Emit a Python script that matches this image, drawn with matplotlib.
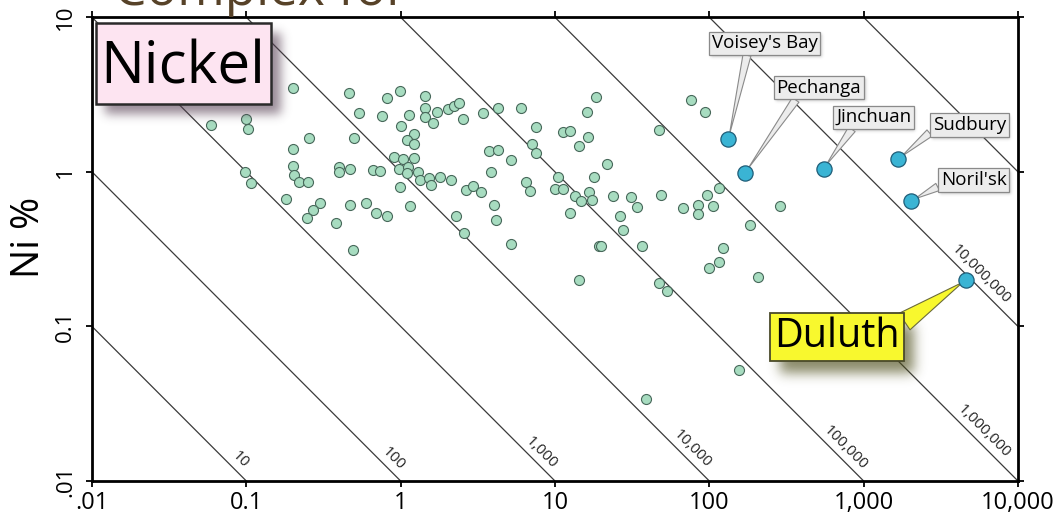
import numpy as np
import matplotlib
matplotlib.use("Agg")
import matplotlib.pyplot as plt
from matplotlib.patches import Rectangle
from matplotlib.image import BboxImage
from matplotlib.transforms import Bbox
from matplotlib.ticker import FixedLocator, FixedFormatter, NullLocator

plt.rcParams["font.family"] = ["Open Sans", "DejaVu Sans"]

# ---------------------------------------------------------------- data
# other nickel deposits: ore tonnage (Mt) and nickel grade (%)
tonnage_mt = [
    0.20, 0.46, 0.81, 0.99, 0.54, 0.76, 0.059, 0.10, 0.103, 0.255,
    0.50, 0.20, 0.91, 0.98, 0.20, 0.204, 0.22, 0.25, 0.40, 0.40,
    0.47, 0.665, 0.74, 0.098, 0.107, 0.99, 0.18, 0.30, 0.27, 0.246,
    0.47, 0.60, 0.69, 0.81, 0.38, 0.49, 1.43, 1.44, 1.44, 1.71,
    1.13, 2.04, 2.23, 2.40, 1.63, 2.52, 3.44, 4.3, 6.0, 18.3,
    16.1, 7.5, 11.2, 12.5, 16.4, 14.2, 1.0, 1.22, 1.10, 1.22,
    7.1, 7.5, 3.76, 4.3, 5.17, 1.04, 1.22, 1.12, 1.10, 1.30,
    1.34, 1.53, 1.57, 1.8, 2.11, 3.85, 10.4, 17.8, 6.5, 6.9,
    10.0, 11.3, 2.65, 2.96, 3.32, 13.5, 16.5, 17.3, 1.15, 2.28,
    2.58, 4.05, 4.15, 5.17, 14.8, 12.5, 19.4, 14.3, 76, 94,
    47, 21.7, 116, 23.8, 31, 48.7, 97, 34.2, 26.4, 27.7,
    20, 36.5, 68, 84, 85, 105, 288, 184, 122, 100,
    115, 208, 47, 53, 155, 38.8,
]
grade_pct = [
    3.5, 3.25, 3.0, 3.35, 2.4, 2.3, 2.0, 2.2, 1.9, 1.65,
    1.65, 1.4, 1.24, 1.04, 1.09, 0.95, 0.86, 0.86, 1.07, 1.0,
    1.05, 1.03, 1.01, 1.0, 0.85, 0.80, 0.67, 0.63, 0.57, 0.50,
    0.61, 0.63, 0.545, 0.52, 0.47, 0.31, 3.1, 2.58, 2.26, 2.45,
    2.33, 2.55, 2.67, 2.8, 2.06, 2.2, 2.39, 2.58, 2.6, 3.04,
    2.44, 1.96, 1.8, 1.85, 1.69, 1.47, 1.98, 1.75, 1.61, 1.51,
    1.51, 1.33, 1.37, 1.39, 1.19, 1.22, 1.23, 1.07, 0.99, 1.0,
    0.88, 0.91, 0.82, 0.93, 0.88, 1.0, 0.92, 0.92, 0.86, 0.755,
    0.78, 0.78, 0.76, 0.81, 0.74, 0.70, 0.74, 0.66, 0.60, 0.52,
    0.40, 0.61, 0.49, 0.34, 0.65, 0.545, 0.33, 0.20, 2.9, 2.45,
    1.87, 1.12, 0.79, 0.70, 0.69, 0.71, 0.71, 0.59, 0.52, 0.42,
    0.33, 0.33, 0.58, 0.61, 0.53, 0.60, 0.60, 0.45, 0.32, 0.24,
    0.26, 0.21, 0.19, 0.17, 0.052, 0.034,
]

# named world-class deposits
deposit_names = ["Voisey's Bay", "Pechanga", "Jinchuan", "Sudbury", "Noril'sk", "Duluth"]
deposit_tonnage_mt = [133, 171, 550, 1680, 2030, 4620]
deposit_grade_pct = [1.63, 0.99, 1.05, 1.21, 0.65, 0.20]

# lines of equal contained nickel (tonnes)
contained_ni_t = [10, 100, 1000, 10000, 100000, 1000000, 10000000, 100000000]
contained_labels = ["10", "100", "1,000", "10,000", "100,000", "1,000,000", "10,000,000", ""]

x_ticks = [0.01, 0.1, 1, 10, 100, 1000, 10000]
x_tick_labels = [".01", "0.1", "1", "10", "100", "1,000", "10,000"]
y_ticks = [0.01, 0.1, 1, 10]
y_tick_labels = [".01", "0.1", "1", "10"]

# ---------------------------------------------------------------- layout
# tonnage along each contour where its label sits
label_tonnage = [0.0815, 0.80, 7.3, 69, 680, 5350, 5130, None]
# callout offsets (points) and wedge attachment on each box
callout_offsets = [(26, 69), (53, 61), (36, 37), (51, 24.5), (45, 15), (-93, -41)]
callout_relpos = [(0.34, 0.0), (0.25, 0.0), (0.24, 0.0), (0.0, 0.2), (0.0, 0.2), (1.0, 0.8)]

W, H = 1054, 522
fig = plt.figure(figsize=(W / 100, H / 100), dpi=100)
fig.patch.set_facecolor("white")
ax = fig.add_axes([92 / W, 1 - 481 / H, 926 / W, 463.7 / H])
ax.set_xscale("log")
ax.set_yscale("log")
ax.set_xlim(0.01, 1e4)
ax.set_ylim(0.01, 10)
ax.set_autoscale_on(False)


def soft_shadow(x0, y0, x1, y1, sigma, color, alpha, zorder):
    """Blurred rectangle drawn in display (pixel) coordinates."""
    pad = int(3 * sigma) + 2
    w = int(round(x1 - x0)) + 2 * pad
    h = int(round(y1 - y0)) + 2 * pad
    mask = np.zeros((h, w))
    mask[pad:h - pad, pad:w - pad] = 1.0
    r = int(3 * sigma)
    t = np.arange(-r, r + 1)
    k = np.exp(-t ** 2 / (2 * sigma ** 2))
    k /= k.sum()
    mask = np.apply_along_axis(lambda m: np.convolve(m, k, mode="same"), 0, mask)
    mask = np.apply_along_axis(lambda m: np.convolve(m, k, mode="same"), 1, mask)
    rgba = np.zeros((h, w, 4))
    rgba[..., :3] = color
    rgba[..., 3] = mask * alpha
    img = BboxImage(Bbox.from_extents(x0 - pad, y0 - pad, x0 - pad + w, y0 - pad + h),
                    interpolation="bilinear", zorder=zorder)
    img.set_data(rgba)
    ax.add_artist(img)


# contours of contained metal: tonnage(Mt) * grade(%) * 1e4 = tonnes Ni
for v, lab, xl in zip(contained_ni_t, contained_labels, label_tonnage):
    k = v / 1e4
    xa, xb = max(0.01, k / 10), min(1e4, k / 0.01)
    ax.plot([xa, xb], [k / xa, k / xb], color="#3a3a3a", lw=0.9, zorder=1)
    if lab:
        yl = k / xl
        p = ax.transData.transform([(xl, yl), (xl * 10, yl / 10)])
        ang = np.degrees(np.arctan2(p[1, 1] - p[0, 1], p[1, 0] - p[0, 0]))
        ax.annotate(lab, (xl, yl), xytext=(5.3, 5.3), textcoords="offset points",
                    rotation=ang, rotation_mode="anchor", ha="center", va="center",
                    fontsize=11, color="#222222", zorder=2)

ax.scatter(tonnage_mt, grade_pct, s=52, c="#a7dcc0", edgecolors="#47685a",
           linewidths=0.8, zorder=3)
ax.scatter(deposit_tonnage_mt, deposit_grade_pct, s=120, c="#3ab4d4",
           edgecolors="#1f5d78", linewidths=0.9, zorder=7)

annotations = []
for name, xd, yd, off, rel in zip(deposit_names, deposit_tonnage_mt, deposit_grade_pct,
                                  callout_offsets, callout_relpos):
    if name == "Duluth":
        fs, fc, ec, lw, tw, pad = 28.5, "#f8f82e", "#4a4a2a", 1.3, 0.5, 0.1
        wedge_ec = "#6b6b3a"
    else:
        fs, fc, ec, lw, tw, pad = 13.5, "#ececec", "#8a8a8a", 0.9, 0.43, 0.14
        wedge_ec = "#8a8a8a"
    ann = ax.annotate(
        name, (xd, yd), xytext=off, textcoords="offset points",
        ha="center", va="center", fontsize=fs, color="black", zorder=5,
        bbox=dict(boxstyle=f"square,pad={pad}", fc=fc, ec=ec, lw=lw),
        arrowprops=dict(arrowstyle=f"wedge,tail_width={tw},shrink_factor=0.5",
                        fc=fc, ec=wedge_ec, lw=0.8, relpos=rel,
                        shrinkA=0, shrinkB=3),
    )
    annotations.append(ann)

# "Nickel" panel tag
tag = (0.0043, 0.813, 0.1887, 0.175)
ax.add_patch(Rectangle(tag[:2], tag[2], tag[3], transform=ax.transAxes,
                       fc="#fde4f1", ec="#2a2a2a", lw=1.8, zorder=5, clip_on=False))
ax.text(0.0983, 0.858, "Nickel", transform=ax.transAxes, ha="center",
        va="baseline", fontsize=42, color="black", zorder=6)

# axes styling
ax.xaxis.set_major_locator(FixedLocator(x_ticks))
ax.xaxis.set_major_formatter(FixedFormatter(x_tick_labels))
ax.yaxis.set_major_locator(FixedLocator(y_ticks))
ax.yaxis.set_major_formatter(FixedFormatter(y_tick_labels))
ax.xaxis.set_minor_locator(NullLocator())
ax.yaxis.set_minor_locator(NullLocator())
for s in ax.spines.values():
    s.set_linewidth(2.0)
    s.set_color("black")
ax.tick_params(which="major", direction="out", length=4.5, width=1.3,
               top=True, right=True, labeltop=False, labelright=False)
ax.tick_params(axis="x", labelsize=17, pad=3)
ax.tick_params(axis="y", labelsize=16, pad=7, labelrotation=90)
for t in ax.get_yticklabels():
    t.set_va("center")

ax.set_ylabel("Ni %", fontsize=28)
ax.yaxis.set_label_coords(-0.068, 0.525)
ax.yaxis.label.set_va("center")

fig.text(114 / W, 1 - 5 / H, "Complex for", fontsize=37, color="#574228",
         ha="left", va="baseline")

# drop shadows behind the tags
fig.canvas.draw()
renderer = fig.canvas.get_renderer()
(x0, y0), (x1, y1) = ax.transAxes.transform([tag[:2], (tag[0] + tag[2], tag[1] + tag[3])])
soft_shadow(x0 + 9, y0 - 10, x1 + 9, y1 - 10, 5, (0.33, 0.24, 0.32), 0.6, 4)
for ann in annotations:
    e = ann.get_bbox_patch().get_window_extent(renderer)
    if ann.get_text() == "Duluth":
        soft_shadow(e.x0 + 10, e.y0 - 12, e.x1 + 10, e.y1 - 12, 6, (0.3, 0.3, 0.1), 0.65, 4)
    else:
        soft_shadow(e.x0 + 2, e.y0 - 2, e.x1 + 2, e.y1 - 2, 1.5, (0.3, 0.3, 0.3), 0.3, 4)

fig.savefig("out.png", dpi=100, facecolor="white")
